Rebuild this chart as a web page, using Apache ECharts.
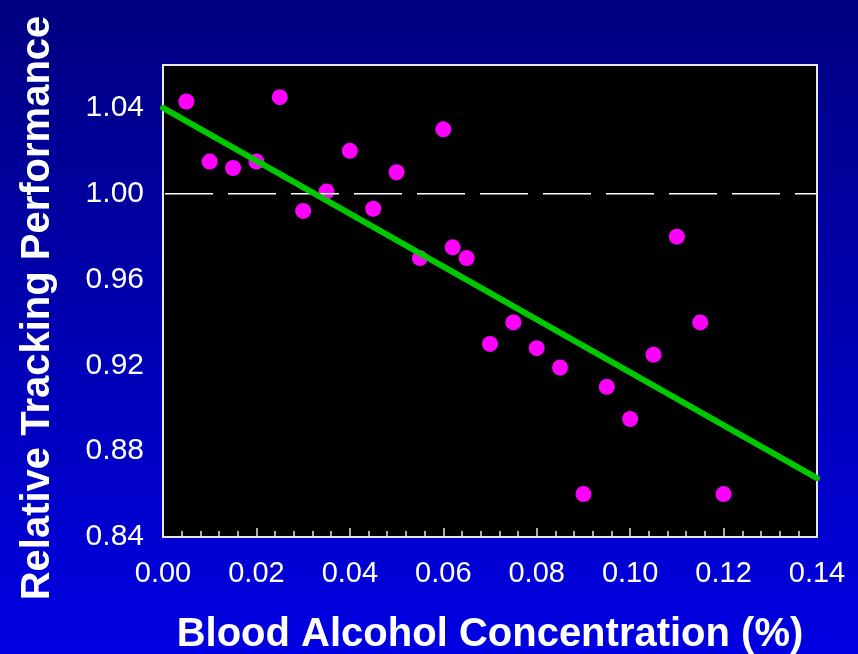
<!DOCTYPE html>
<html>
<head>
<meta charset="utf-8">
<script src="https://cdn.jsdelivr.net/npm/echarts@6/dist/echarts.min.js"></script>
<style>
  html, body { margin: 0; padding: 0; background: #000080; }
  #chart { width: 858px; height: 654px; }
</style>
</head>
<body>
<div id="chart"></div>
<script>
// blood alcohol concentration (%) and relative tracking performance
const bac = [0.005, 0.01, 0.015, 0.02, 0.025, 0.03, 0.035, 0.04, 0.045, 0.05,
             0.055, 0.06, 0.062, 0.065, 0.07, 0.075, 0.08, 0.085, 0.09, 0.095,
             0.10, 0.105, 0.11, 0.115, 0.12]
const performance = [1.043, 1.015, 1.012, 1.015, 1.045, 0.992, 1.001, 1.020, 0.993, 1.010,
                     0.970, 1.030, 0.975, 0.970, 0.930, 0.940, 0.928, 0.919, 0.860, 0.910,
                     0.895, 0.925, 0.980, 0.940, 0.860]
// regression line end points
const fitX = [0, 0.14]
const fitY = [1.04, 0.8674]
// baseline at 1.00
const baseX = [0, 0.14]
const baseY = [1.00, 1.00]

const xTicks = ['0.00', '0.02', '0.04', '0.06', '0.08', '0.10', '0.12', '0.14']
const yTicks = ['0.84', '0.88', '0.92', '0.96', '1.00', '1.04']

const font = 'Liberation Sans, Arial, sans-serif'
const chart = echarts.init(document.getElementById('chart'))

chart.setOption({
    backgroundColor: new echarts.graphic.LinearGradient(0, 0, 0, 1, [
        { offset: 0, color: '#000080' },
        { offset: 1, color: '#0000E2' }
    ]),
    animation: false,
    grid: {
        left: 163,
        right: 41,
        top: 65,
        bottom: 117,
        outerBoundsMode: 'none',
        containLabel: false,
        show: true,
        backgroundColor: '#000',
        borderColor: '#e8e8e8',
        borderWidth: 2
    },
    xAxis: {
        type: 'value',
        min: 0,
        max: 0.14,
        interval: 0.02,
        name: 'Blood Alcohol Concentration (%)',
        nameLocation: 'middle',
        nameGap: 78,
        nameTextStyle: { color: '#fff', fontSize: 40, fontWeight: 'bold', fontFamily: font },
        axisLine: { show: true, lineStyle: { color: '#e8e8e8', width: 2 } },
        axisTick: { show: true, inside: true, length: 9, lineStyle: { color: '#e8e8e8', width: 1.5 } },
        minorTick: { show: true, splitNumber: 5, length: 6, lineStyle: { color: '#e8e8e8', width: 1.5 } },
        splitLine: { show: false },
        axisLabel: {
            color: '#fff',
            fontSize: 29,
            fontFamily: font,
            margin: 22,
            formatter: (v) => xTicks[Math.round(v / 0.02)]
        }
    },
    yAxis: {
        type: 'value',
        min: 0.84,
        max: 1.06,
        interval: 0.04,
        name: 'Relative Tracking Performance',
        nameLocation: 'middle',
        nameGap: 105,
        nameTextStyle: {
            color: '#fff', fontSize: 40, fontWeight: 'bold', fontFamily: font,
            padding: [0, 14, 0, 0]
        },
        axisLine: { show: true, lineStyle: { color: '#e8e8e8', width: 2 } },
        axisTick: { show: false },
        splitLine: { show: false },
        axisLabel: {
            color: '#fff',
            fontSize: 30,
            fontFamily: font,
            margin: 19,
            showMaxLabel: false,
            formatter: (v) => {
                const i = Math.round((v - 0.84) / 0.04)
                return yTicks[i] !== undefined ? yTicks[i] : ''
            }
        }
    },
    series: [
        {
            type: 'scatter',
            data: bac.map((x, i) => [x, performance[i]]),
            symbolSize: 16,
            itemStyle: { color: '#FF00FF', opacity: 1 },
            z: 2
        },
        {
            type: 'line',
            data: baseX.map((x, i) => [x, baseY[i]]),
            symbol: 'none',
            lineStyle: { color: '#fff', width: 1.5, type: [48, 15], dashOffset: -2 },
            z: 3
        },
        {
            type: 'line',
            data: fitX.map((x, i) => [x, fitY[i]]),
            symbol: 'none',
            clip: false,
            lineStyle: { color: '#00C800', width: 6, cap: 'round' },
            z: 4
        }
    ]
})
</script>
</body>
</html>
